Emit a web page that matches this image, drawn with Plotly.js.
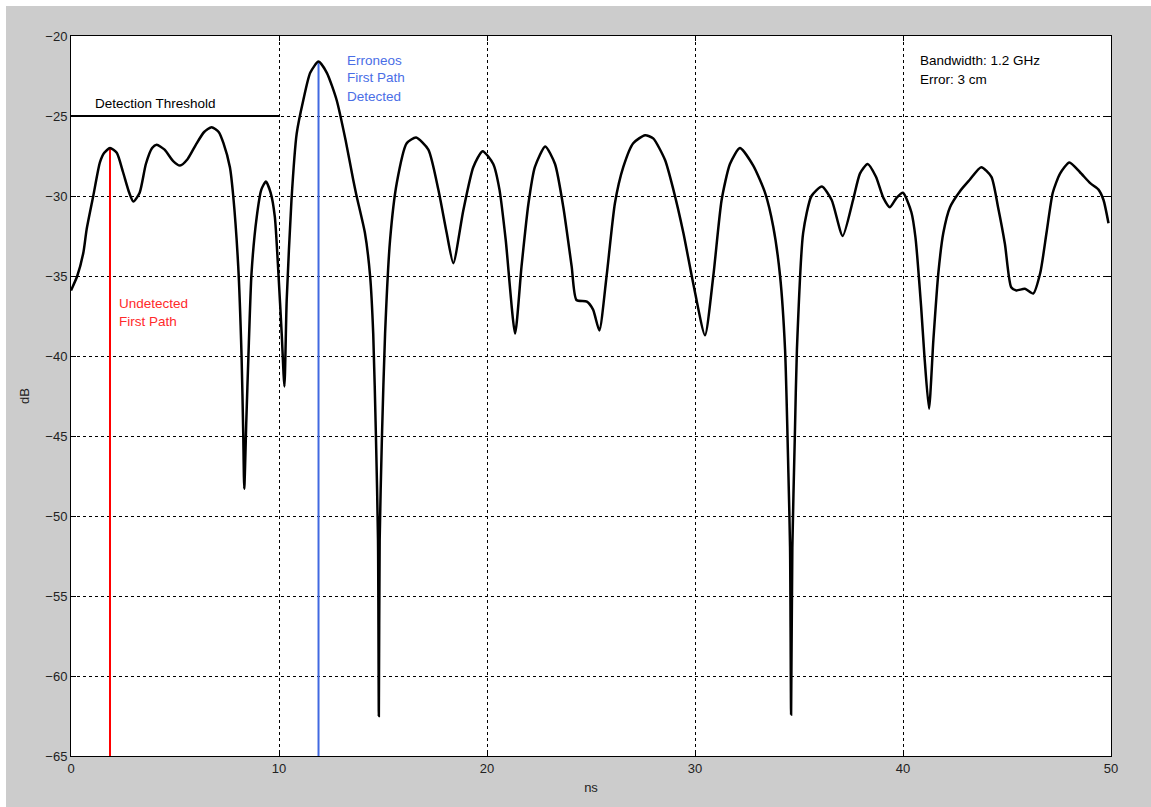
<!DOCTYPE html>
<html>
<head>
<meta charset="utf-8">
<script src="https://cdn.plot.ly/plotly-3.0.1.min.js"></script>
<style>
  html, body { margin: 0; padding: 0; background: #ffffff; }
  #chart { position: absolute; left: 6px; top: 6px; width: 1145px; height: 801px; }
</style>
</head>
<body>
<div id="chart"></div>
<script>
// Time axis (ns) and received power (dB)
const timeNs = [
  0, 0.3, 0.6, 0.75, 1.07, 1.39, 1.6, 1.875, 2.2, 2.5, 2.8, 3.0, 3.3, 3.6, 3.9, 4.12,
  4.5, 4.9, 5.24, 5.6, 6.0, 6.4, 6.76, 7.1, 7.33, 7.64, 7.8, 8.04, 8.2, 8.28, 8.33,
  8.43, 8.53, 8.68, 8.93, 9.15, 9.37, 9.6, 9.8, 9.97, 10.13, 10.26, 10.37, 10.6,
  10.85, 11.17, 11.5, 11.9, 12.3, 12.77, 13.2, 13.57, 13.73, 14.13, 14.38, 14.53,
  14.66, 14.76, 14.80, 14.84, 14.95, 15.1, 15.34, 15.66, 16.14, 16.59, 17.18, 17.66,
  18.06, 18.38, 18.86, 19.34, 19.79, 20.3, 20.6, 20.9, 21.35, 21.66, 21.99, 22.3,
  22.8, 23.27, 23.67, 24.07, 24.3, 24.8, 25.1, 25.4, 25.75, 26.15, 26.55, 27.03,
  27.6, 27.99, 28.56, 28.96, 29.44, 29.92, 30.48, 30.88, 31.28, 31.68, 32.16, 32.8,
  33.37, 33.76, 34.09, 34.33, 34.49, 34.57, 34.62, 34.68, 34.8, 34.9, 35.2, 35.6,
  36.1, 36.57, 37.1, 37.6, 37.93, 38.3, 38.7, 39.05, 39.37, 39.7, 40.0, 40.4, 40.6,
  40.87, 41.03, 41.25, 41.46, 41.7, 41.94, 42.26, 42.74, 43.2, 43.76, 44.25, 44.57,
  44.9, 45.2, 45.45, 45.86, 46.26, 46.6, 46.9, 47.2, 47.55, 48.0, 48.5, 49.0, 49.4,
  49.64, 49.88
];
const powerDb = [
  -35.9, -35.0, -33.5, -32.1, -30.0, -27.9, -27.3, -27.0, -27.3, -28.5, -29.8, -30.35,
  -29.8, -28.0, -27.0, -26.8, -27.1, -27.8, -28.1, -27.7, -26.8, -26.0, -25.7, -26.0,
  -26.7, -28.2, -30.0, -34.4, -40.0, -44.8, -48.3, -44.0, -40.0, -34.8, -31.3, -29.6,
  -29.1, -29.8, -31.3, -34.8, -38.6, -41.9, -36.5, -30.25, -26.1, -24.0, -22.3, -21.6,
  -22.3, -24.0, -26.5, -29.0, -30.0, -32.3, -35.0, -38.6, -45.0, -51.5, -62.5, -51.5,
  -45.0, -38.6, -32.75, -29.2, -26.7, -26.35, -27.1, -29.6, -32.3, -34.2, -30.9, -28.2,
  -27.2, -28.0, -29.6, -32.75, -38.6, -34.4, -30.5, -28.2, -26.9, -28.0, -30.7, -34.4,
  -36.5, -36.6, -37.1, -38.4, -35.0, -30.45, -28.2, -26.7, -26.2, -26.4, -27.75, -29.6,
  -32.3, -35.5, -38.7, -35.0, -30.25, -28.0, -27.0, -28.1, -29.8, -31.9, -35.0, -39.6,
  -47.3, -52.0, -62.4, -52.0, -45.0, -39.6, -32.3, -30.0, -29.4, -30.25, -32.5, -30.25,
  -28.6, -28.0, -28.8, -30.1, -30.7, -30.1, -29.8, -31.0, -32.6, -36.9, -40.0, -43.3,
  -39.0, -34.8, -32.3, -30.7, -29.7, -29.0, -28.2, -28.8, -30.7, -33.0, -35.7, -35.9,
  -35.8, -36.1, -34.8, -32.3, -29.8, -28.6, -27.9, -28.5, -29.2, -29.6, -30.25, -31.7
];

// Reference markers
const thresholdX = [0, 10];
const thresholdY = [-25, -25];
const undetectedX = [1.875, 1.875];
const undetectedY = [-65, -27.0];
const erroneousX = [11.9, 11.9];
const erroneousY = [-65, -21.6];

const xTicks = [0, 10, 20, 30, 40, 50];
const yTicks = [-65, -60, -55, -50, -45, -40, -35, -30, -25, -20];

const traces = [
  { x: thresholdX, y: thresholdY, mode: 'lines', line: { color: '#000000', width: 2 }, hoverinfo: 'skip' },
  { x: undetectedX, y: undetectedY, mode: 'lines', line: { color: '#ff0000', width: 2 }, hoverinfo: 'skip' },
  { x: erroneousX, y: erroneousY, mode: 'lines', line: { color: '#4169e1', width: 2 }, hoverinfo: 'skip' },
  { x: timeNs, y: powerDb, mode: 'lines', line: { color: '#000000', width: 2.5, shape: 'spline', smoothing: 0.6 } }
];

const labelFont = { family: 'Liberation Sans, Arial, sans-serif', size: 13.5, color: '#000000' };
function note(x, y, text, color) {
  return { x: x, y: y, xref: 'x', yref: 'y', text: text, showarrow: false,
           xanchor: 'left', yanchor: 'middle',
           font: Object.assign({}, labelFont, { color: color || '#000000' }) };
}

const layout = {
  width: 1145, height: 801,
  paper_bgcolor: '#cccccc',
  plot_bgcolor: '#ffffff',
  showlegend: false,
  margin: { l: 65, r: 40, t: 30, b: 51 },
  xaxis: {
    range: [0, 50], tickvals: xTicks, ticks: 'inside', ticklen: 5, tickcolor: '#000',
    showline: true, linecolor: '#000', linewidth: 1, mirror: 'ticks',
    showgrid: true, gridcolor: '#000', gridwidth: 1, griddash: '3px,3px',
    zeroline: false,
    tickfont: { family: 'Liberation Sans, Arial, sans-serif', size: 13, color: '#222' },
    title: { text: 'ns', font: { family: 'Liberation Sans, Arial, sans-serif', size: 13, color: '#222' }, standoff: 8 }
  },
  yaxis: {
    range: [-65, -20], tickvals: yTicks, ticks: 'inside', ticklen: 5, tickcolor: '#000',
    showline: true, linecolor: '#000', linewidth: 1, mirror: 'ticks',
    showgrid: true, gridcolor: '#000', gridwidth: 1, griddash: '3px,3px',
    zeroline: false,
    tickfont: { family: 'Liberation Sans, Arial, sans-serif', size: 13, color: '#222' },
    title: { text: 'dB', font: { family: 'Liberation Sans, Arial, sans-serif', size: 13, color: '#222' }, standoff: 12 }
  },
  annotations: [
    note(1.05, -24.2, 'Detection Threshold'),
    note(2.2, -36.7, 'Undetected', '#ff2a2a'),
    note(2.2, -37.85, 'First Path', '#ff2a2a'),
    note(13.15, -21.5, 'Erroneos', '#4a6ee6'),
    note(13.15, -22.6, 'First Path', '#4a6ee6'),
    note(13.15, -23.75, 'Detected', '#4a6ee6'),
    note(40.7, -21.55, 'Bandwidth: 1.2 GHz'),
    note(40.7, -22.7, 'Error: 3 cm')
  ]
};

Plotly.newPlot('chart', traces, layout, { displayModeBar: false, staticPlot: true });
</script>
</body>
</html>
